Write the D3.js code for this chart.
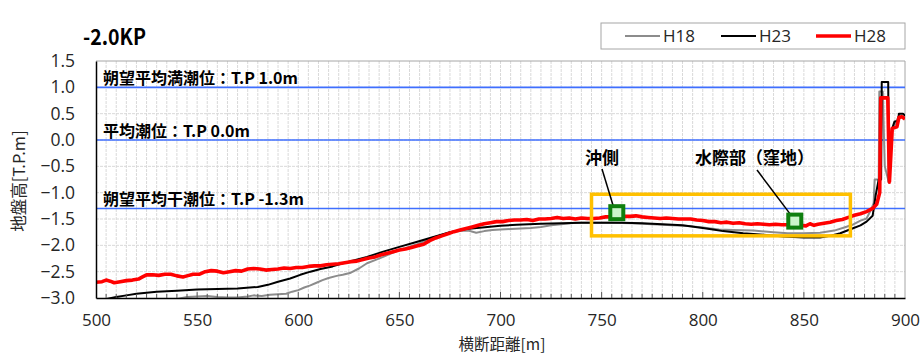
<!DOCTYPE html>
<html>
<head>
<meta charset="utf-8">
<script src="https://cdn.jsdelivr.net/npm/d3@7/dist/d3.min.js"></script>
<style>
  body { margin: 0; background: #fff; }
  svg { display: block; }
</style>
</head>
<body>
<svg id="chart" width="920" height="353"></svg>
<script>
// Cross-section profile at -2.0KP: ground height (T.P. m) against transverse distance (m)

// H18 survey
const h18X = [500, 530, 540, 545, 550, 555, 560, 565, 570, 575, 578, 582, 586, 590, 594, 597, 600, 603, 606, 609, 612, 615, 619, 622, 626, 630, 634, 638, 642, 646, 650, 654, 658, 662, 666, 670, 675, 680, 684, 688, 692, 696, 700, 705, 710, 715, 720, 725, 730, 737, 745, 755, 765, 775, 785, 795, 800, 808, 815, 825, 835, 842, 850, 858, 865, 870, 874, 878, 881, 883.5, 884.5, 885, 887, 887.3, 889, 890, 892, 893.5, 895, 897, 900];
const h18Y = [-3.10, -3.08, -3.02, -2.98, -2.97, -2.96, -2.98, -2.99, -2.99, -2.97, -2.95, -2.96, -2.94, -2.93, -2.92, -2.88, -2.85, -2.80, -2.76, -2.71, -2.66, -2.62, -2.58, -2.56, -2.52, -2.44, -2.34, -2.28, -2.22, -2.15, -2.09, -2.04, -1.99, -1.93, -1.86, -1.81, -1.75, -1.73, -1.72, -1.76, -1.73, -1.71, -1.70, -1.69, -1.68, -1.67, -1.65, -1.62, -1.60, -1.57, -1.57, -1.57, -1.58, -1.60, -1.62, -1.64, -1.66, -1.70, -1.71, -1.72, -1.75, -1.77, -1.77, -1.76, -1.72, -1.66, -1.61, -1.53, -1.49, -1.30, -1.20, -0.75, -0.75, 0.92, 0.92, -0.50, -0.80, 0.15, 0.30, 0.45, 0.42];

// H23 survey
const h23X = [500, 505, 510, 515, 520, 525, 530, 540, 550, 560, 570, 580, 585, 590, 596, 601, 606, 611, 617, 625, 634, 642, 650, 658, 666, 675, 683, 691, 700, 708, 720, 730, 740, 750, 760, 770, 780, 790, 800, 805, 810, 820, 830, 840, 850, 858, 863, 868, 874, 878, 881, 884, 885.5, 887, 888.2, 888.5, 891.7, 892, 893.5, 894.8, 896.5, 897, 899, 900];
const h23Y = [-3.05, -3.02, -2.98, -2.95, -2.92, -2.90, -2.88, -2.86, -2.84, -2.83, -2.82, -2.79, -2.75, -2.69, -2.63, -2.56, -2.50, -2.45, -2.40, -2.31, -2.22, -2.12, -2.03, -1.94, -1.85, -1.75, -1.69, -1.66, -1.63, -1.61, -1.59, -1.58, -1.57, -1.57, -1.57, -1.58, -1.60, -1.62, -1.67, -1.70, -1.73, -1.77, -1.80, -1.83, -1.85, -1.85, -1.82, -1.77, -1.68, -1.62, -1.55, -1.44, -1.05, -0.75, -0.75, 1.10, 1.10, -0.80, 0.20, 0.35, 0.36, 0.50, 0.50, 0.46];

// H28 survey
const h28X = [500, 503, 505, 507, 509, 512, 515, 518, 521, 523, 525, 528, 531, 534, 537, 540, 543, 545, 548, 551, 554, 557, 560, 563, 566, 569, 572, 575, 578, 581, 584, 587, 590, 593, 596, 599, 602, 605, 608, 611, 614, 617, 620, 623, 626, 629, 632, 635, 638, 641, 644, 647, 650, 653, 656, 659, 662, 665, 668, 671, 674, 677, 680, 683, 686, 689, 692, 695, 698, 701, 704, 707, 710, 713, 716, 719, 722, 725, 728, 731, 734, 737, 740, 743, 746, 749, 752, 755, 758, 761, 764, 767, 770, 773, 776, 779, 782, 785, 788, 791, 794, 797, 800, 803, 806, 809, 812, 815, 818, 821, 824, 827, 830, 833, 836, 839, 842, 845, 848, 851, 853, 855, 857, 860, 863, 866, 869, 872, 875, 878, 881, 884, 886, 887.5, 888, 891.5, 892.3, 893.7, 896, 897, 898.5, 900];
const h28Y = [-2.70, -2.69, -2.66, -2.68, -2.71, -2.69, -2.67, -2.66, -2.64, -2.60, -2.56, -2.56, -2.57, -2.55, -2.55, -2.58, -2.60, -2.58, -2.55, -2.55, -2.50, -2.48, -2.49, -2.52, -2.50, -2.48, -2.49, -2.45, -2.44, -2.45, -2.47, -2.46, -2.45, -2.43, -2.44, -2.42, -2.42, -2.40, -2.39, -2.39, -2.37, -2.36, -2.35, -2.33, -2.31, -2.30, -2.27, -2.24, -2.22, -2.18, -2.15, -2.12, -2.09, -2.07, -2.04, -2.01, -1.98, -1.91, -1.86, -1.82, -1.78, -1.74, -1.71, -1.68, -1.65, -1.62, -1.59, -1.57, -1.55, -1.55, -1.53, -1.52, -1.52, -1.51, -1.53, -1.50, -1.50, -1.49, -1.47, -1.49, -1.48, -1.50, -1.48, -1.49, -1.49, -1.48, -1.46, -1.46, -1.45, -1.45, -1.45, -1.44, -1.46, -1.47, -1.48, -1.49, -1.48, -1.49, -1.50, -1.50, -1.50, -1.52, -1.53, -1.55, -1.55, -1.57, -1.56, -1.58, -1.57, -1.59, -1.60, -1.59, -1.60, -1.61, -1.60, -1.61, -1.61, -1.62, -1.62, -1.63, -1.59, -1.62, -1.60, -1.58, -1.56, -1.53, -1.51, -1.47, -1.43, -1.40, -1.36, -1.30, -1.22, -1.00, 0.80, 0.80, -0.80, 0.22, 0.25, 0.43, 0.44, 0.40];

// Axis ticks
const xTicks = [500, 550, 600, 650, 700, 750, 800, 850, 900];
const yTicks = [1.5, 1.0, 0.5, 0.0, -0.5, -1.0, -1.5, -2.0, -2.5, -3.0];

// Reference tide levels
const tideLevels = [1.0, 0.0, -1.3];
const tideLabels = ["朔望平均満潮位：T.P 1.0m", "平均潮位：T.P 0.0m", "朔望平均干潮位：T.P -1.3m"];

// Study area box and observation points
const boxX = [745, 873];
const boxY = [-1.03, -1.82];
const pointNames = ["沖側", "水際部（窪地）"];
const pointX = [757.5, 845.5];
const pointY = [-1.38, -1.54];

const seriesNames = ["H18", "H23", "H28"];
const seriesColors = ["#8c8c8c", "#000000", "#ff0000"];
const seriesWidths = [2, 2, 3.6];

const svg = d3.select("#chart");
const L = 96, R = 905, T = 61, B = 298;

const x = d3.scaleLinear().domain([500, 900]).range([L, R]);
const y = d3.scaleLinear().domain([-3.0, 1.5]).range([B, T]);

const numFont = "'Open Sans', 'Noto Sans', sans-serif";
const jpFont = "'Noto Sans CJK JP', sans-serif";

// Clip lines to the plot area
svg.append("defs").append("clipPath").attr("id", "plotClip")
  .append("rect").attr("x", L).attr("y", T).attr("width", R - L).attr("height", B - T);

// Gridlines
const grid = svg.append("g");
grid.selectAll("line.vg").data(d3.range(505, 900, 5)).join("line")
  .attr("x1", d => x(d)).attr("x2", d => x(d))
  .attr("y1", T).attr("y2", B)
  .attr("stroke", "#d9d9d9").attr("stroke-width", 1)
  .attr("stroke-dasharray", "3,1");
grid.selectAll("line.hg").data(yTicks.filter(v => v > -3 && v < 1.5)).join("line")
  .attr("x1", L).attr("x2", R)
  .attr("y1", d => y(d)).attr("y2", d => y(d))
  .attr("stroke", "#d9d9d9").attr("stroke-width", 1)
  .attr("stroke-dasharray", "3,1");

// Top and right border
svg.append("path")
  .attr("d", `M${L},${T}H${R}V${B}`)
  .attr("fill", "none").attr("stroke", "#a6a6a6").attr("stroke-width", 1);

// Tide level lines
svg.append("g").selectAll("line").data(tideLevels).join("line")
  .attr("x1", L).attr("x2", R)
  .attr("y1", d => y(d)).attr("y2", d => y(d))
  .attr("stroke", "#3f6fff").attr("stroke-width", 1.6);

// Profile lines
const seriesX = [h18X, h23X, h28X];
const seriesY = [h18Y, h23Y, h28Y];
const line = d3.line().x(d => x(d[0])).y(d => y(d[1]));
const lines = svg.append("g").attr("clip-path", "url(#plotClip)");
seriesNames.forEach((name, i) => {
  const pts = seriesX[i].map((v, j) => [v, seriesY[i][j]]);
  lines.append("path").datum(pts)
    .attr("d", line)
    .attr("fill", "none")
    .attr("stroke", seriesColors[i])
    .attr("stroke-width", seriesWidths[i])
    .attr("stroke-linejoin", "round");
});

// Axes
const xAxis = d3.axisBottom(x).tickValues(xTicks).tickFormat(d3.format("d")).tickSize(0).tickPadding(16);
const gx = svg.append("g").attr("transform", `translate(0,${B})`).call(xAxis);
gx.select(".domain").attr("stroke", "#000").attr("stroke-width", 1.5);
gx.selectAll("text").attr("font-family", numFont).attr("font-size", 17).attr("fill", "#262626");
// Inward ticks: minor every 5 m, major every 50 m
svg.append("g").selectAll("line").data(d3.range(505, 900, 5)).join("line")
  .attr("x1", d => x(d)).attr("x2", d => x(d))
  .attr("y1", B).attr("y2", d => d % 50 === 0 ? B - 6 : B - 4)
  .attr("stroke", "#595959").attr("stroke-width", 1);

const yAxis = d3.axisLeft(y).tickValues(yTicks).tickFormat(d3.format(".1f")).tickSize(0).tickPadding(21);
const gy = svg.append("g").attr("transform", `translate(${L},0)`).call(yAxis);
gy.select(".domain").attr("stroke", "#000").attr("stroke-width", 1.5);
gy.selectAll("text").attr("font-family", numFont).attr("font-size", 17.5).attr("fill", "#262626");

// Tide level labels
svg.append("g").selectAll("text").data(tideLevels).join("text")
  .attr("x", L + 7).attr("y", d => y(d) - 3)
  .attr("font-family", jpFont).attr("font-weight", "bold").attr("font-size", 16)
  .attr("fill", "#000")
  .text((d, i) => tideLabels[i]);

// Study area box
svg.append("rect")
  .attr("x", x(boxX[0])).attr("y", y(boxY[0]))
  .attr("width", x(boxX[1]) - x(boxX[0]))
  .attr("height", y(boxY[1]) - y(boxY[0]))
  .attr("fill", "none").attr("stroke", "#ffc000").attr("stroke-width", 3.5);

// Point labels with leader lines
const labelPos = [[585, 164, 602, 169], [695, 164, 757, 170]];
pointNames.forEach((name, i) => {
  const [tx, ty, lx, ly] = labelPos[i];
  svg.append("line")
    .attr("x1", lx).attr("y1", ly)
    .attr("x2", x(pointX[i]) - 3).attr("y2", y(pointY[i]) - 5)
    .attr("stroke", "#000").attr("stroke-width", 1.5);
  svg.append("text")
    .attr("x", tx).attr("y", ty)
    .attr("font-family", jpFont).attr("font-weight", "bold").attr("font-size", 17)
    .attr("fill", "#000").text(name);
});

// Observation point markers
svg.append("g").selectAll("rect").data(pointX).join("rect")
  .attr("x", d => x(d) - 6.5)
  .attr("y", (d, i) => y(pointY[i]) - 6.5)
  .attr("width", 13).attr("height", 13)
  .attr("fill", "#ccf5cc").attr("stroke", "#0f7f0f").attr("stroke-width", 4);

// Title
svg.append("text")
  .attr("x", 83).attr("y", 45)
  .attr("font-family", jpFont).attr("font-weight", "bold").attr("font-size", 22)
  .attr("textLength", 63).attr("lengthAdjust", "spacingAndGlyphs")
  .attr("fill", "#000").text("-2.0KP");

// Axis titles
svg.append("text")
  .attr("x", 502).attr("y", 350).attr("text-anchor", "middle")
  .attr("font-family", jpFont).attr("font-size", 15.5).attr("fill", "#262626")
  .text("横断距離[m]");
svg.append("text")
  .attr("transform", "translate(25,181) rotate(-90)").attr("text-anchor", "middle")
  .attr("font-family", jpFont).attr("font-size", 16.5).attr("fill", "#262626")
  .text("地盤高[T.P.m]");

// Legend
const lg = svg.append("g");
lg.append("rect").attr("x", 601).attr("y", 23).attr("width", 304).attr("height", 26)
  .attr("fill", "#fff").attr("stroke", "#a6a6a6").attr("stroke-width", 1);
const legendX = [625, 721, 816];
seriesNames.forEach((name, i) => {
  lg.append("line")
    .attr("x1", legendX[i]).attr("x2", legendX[i] + 35)
    .attr("y1", 36).attr("y2", 36)
    .attr("stroke", seriesColors[i]).attr("stroke-width", seriesWidths[i]);
  lg.append("text")
    .attr("x", legendX[i] + 38).attr("y", 42)
    .attr("font-family", numFont).attr("font-size", 17).attr("fill", "#262626")
    .text(name);
});
</script>
</body>
</html>
